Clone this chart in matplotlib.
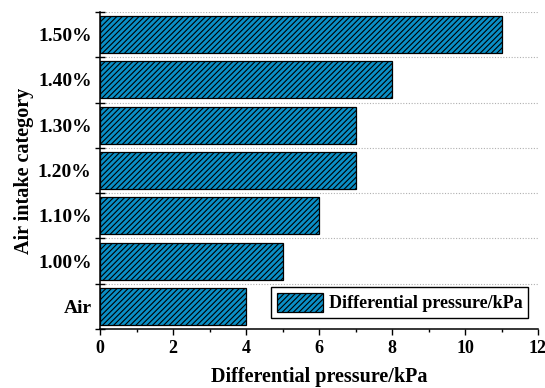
import matplotlib
matplotlib.use("Agg")
import matplotlib.pyplot as plt
from matplotlib.ticker import MultipleLocator, FixedLocator, NullFormatter, FixedFormatter

plt.rcParams['font.family'] = ['Liberation Serif', 'DejaVu Serif']
plt.rcParams['font.weight'] = 'bold'
plt.rcParams['hatch.linewidth'] = 0.8

categories = ["Air", "1.00%", "1.10%", "1.20%", "1.30%", "1.40%", "1.50%"]
pressure_kpa = [4, 5, 6, 7, 7, 8, 11]
series_name = "Differential pressure/kPa"

fig = plt.figure(figsize=(5.45, 3.88), dpi=100)
ax = fig.add_axes([100 / 545, 1 - 329 / 388, 438 / 545, (329 - 12) / 388])

pos = list(range(len(categories)))
ax.barh(pos, pressure_kpa, height=0.82, color="#0a8fc6", edgecolor="black",
        linewidth=0.9, hatch="//////", label=series_name, zorder=3)

ax.set_xlim(0, 12)
ax.set_ylim(-0.5, len(categories) - 0.5)

# x ticks
ax.xaxis.set_major_locator(MultipleLocator(2))
ax.xaxis.set_minor_locator(MultipleLocator(1))
ax.tick_params(axis="x", which="major", direction="out", length=4, width=1, labelsize=13, pad=4)
ax.tick_params(axis="x", which="minor", direction="out", length=2.5, width=1)

# y ticks at category boundaries, labels at category centres
bounds = [p - 0.5 for p in pos] + [pos[-1] + 0.5]
ax.yaxis.set_major_locator(FixedLocator(bounds))
ax.yaxis.set_major_formatter(NullFormatter())
ax.yaxis.set_minor_locator(FixedLocator(pos))
ax.yaxis.set_minor_formatter(FixedFormatter(categories))
ax.tick_params(axis="y", which="major", direction="inout", length=7, width=1)
ax.tick_params(axis="y", which="minor", length=0, labelsize=14, pad=6)
for lbl in ax.get_yticklabels(minor=True):
    lbl.set_fontweight("bold")
for lbl in ax.get_xticklabels():
    lbl.set_fontweight("bold")

ax.grid(axis="y", which="major", linestyle=(0, (1, 1.5)), color="#b0b0b0", linewidth=0.8, zorder=0)

for side in ("top", "right"):
    ax.spines[side].set_visible(False)
for side in ("left", "bottom"):
    ax.spines[side].set_linewidth(1.1)

ax.set_xlabel(series_name, fontsize=14.5, fontweight="bold", labelpad=7)
ax.set_ylabel("Air intake category", fontsize=14.5, fontweight="bold", labelpad=3)

leg = ax.legend(loc="lower right", bbox_to_anchor=(0.977, 0.035), fancybox=False,
                edgecolor="black", framealpha=1, prop={"size": 13, "weight": "bold"},
                handlelength=2.6, handleheight=1.3, borderpad=0.3, handletextpad=0.3,
                borderaxespad=0)
leg.get_frame().set_linewidth(1.0)

fig.savefig("out.png", dpi=100)
